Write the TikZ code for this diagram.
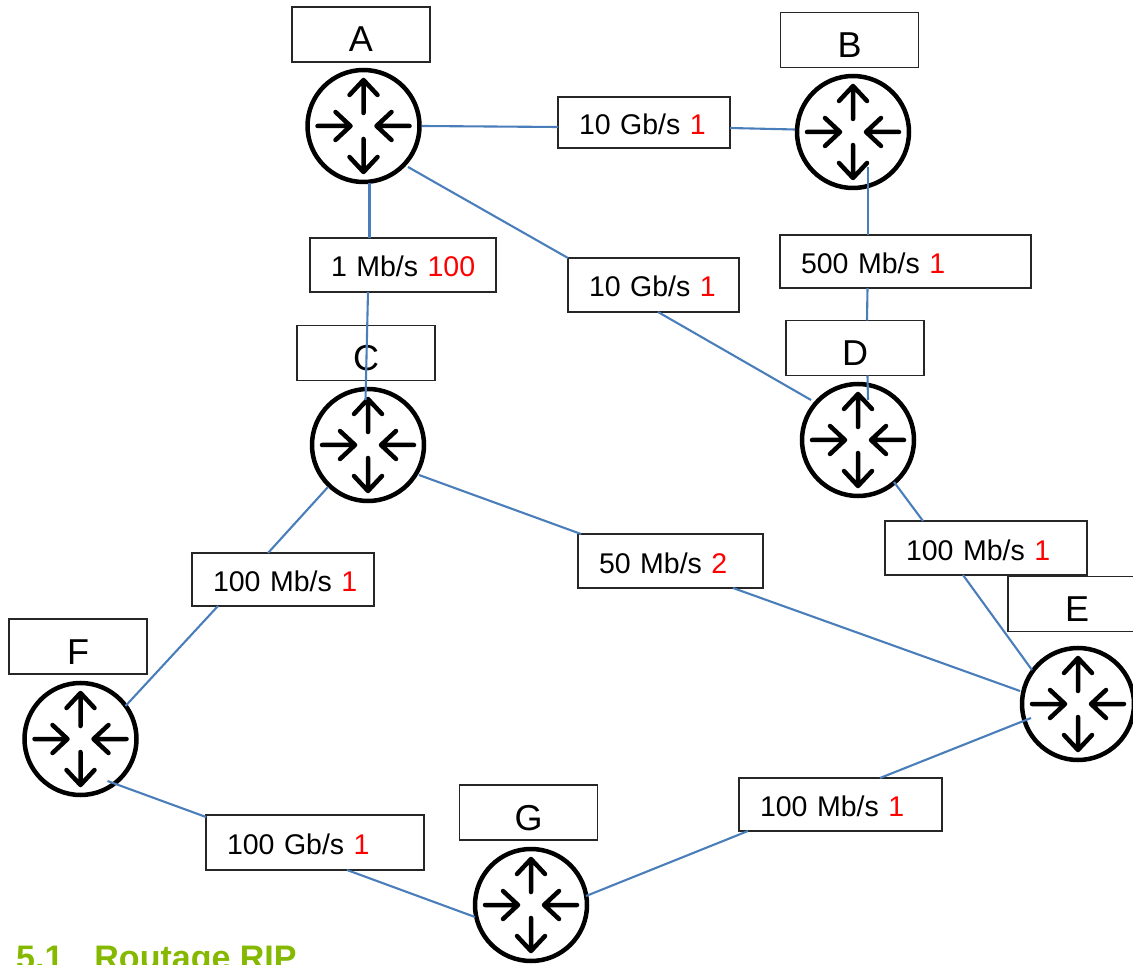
\documentclass[tikz,border=0pt]{standalone}
\usepackage{fontspec}
\setmainfont{Liberation Sans}
\definecolor{linkblue}{HTML}{4A7EBB}
\definecolor{headgreen}{HTML}{84B900}
\newcommand{\redval}[1]{\textcolor{red}{#1}}
\tikzset{
  router/.style={circle,draw=black,fill=white,line width=4.5pt,minimum size=112pt,inner sep=0pt,outer sep=0pt},
  namebox/.style={rectangle,draw=black!85,fill=white,line width=1.8pt,minimum width=138pt,minimum height=55pt,inner sep=0pt,outer sep=0pt,
    font=\fontsize{36}{40}\selectfont,text height=35pt,text depth=0pt},
  ratebox/.style={rectangle,draw=black!85,fill=white,line width=1.8pt,inner xsep=21pt,inner ysep=0pt,outer sep=0pt,align=left,
    font=\fontsize{28.5}{32}\selectfont,text height=24pt,text depth=0pt},
  link/.style={draw=linkblue,line width=2.1pt},
  routerarrows/.pic={
    \begin{scope}[line width=4.5pt,line cap=round,line join=round]
      \draw (0,-13) -- (0,-46) (-14,-31) -- (0,-46) -- (14,-31);
      \draw (0,13) -- (0,46) (-14,31) -- (0,46) -- (14,31);
      \draw (-46,0) -- (-13,0) (-28,-14) -- (-13,0) -- (-28,14);
      \draw (46,0) -- (13,0) (28,-14) -- (13,0) -- (28,14);
    \end{scope}
  }
}
\begin{document}
\begin{tikzpicture}[x=1pt,y=-1pt]
\useasboundingbox (0,0) rectangle (1133,965);
\clip (0,0) rectangle (1133,965);

% routers
\node[router] (A) at (363.5,126) {};
\node[router] (B) at (853,132) {};
\node[router] (C) at (368,445) {};
\node[router] (D) at (858,440) {};
\node[router] (E) at (1078,704) {};
\node[router] (F) at (80.5,739) {};
\node[router] (G) at (531,905) {};
\foreach \r in {A,B,C,D,E,F,G} { \pic at (\r) {routerarrows}; }

% router names
\node[namebox] (nA) at (361,34.5) {A};
\node[namebox] (nB) at (849.5,40) {B};
\node[namebox] (nC) at (366,353) {C};
\node[namebox] (nD) at (855,348) {D};
\node[namebox] (nE) at (1077,604) {E};
\node[namebox] (nF) at (78,646.5) {F};
\node[namebox] (nG) at (528.5,812.5) {G};

% rate boxes
\node[ratebox,text width=130pt,minimum height=51pt] (ab) at (644,122.5) {\mbox{10 Gb/s \redval{1}}};
\node[ratebox,text width=144pt,minimum height=54pt] (ac) at (403,265) {\mbox{1 Mb/s \redval{100}}};
\node[ratebox,text width=129pt,minimum height=54pt] (ad) at (653.5,285) {\mbox{10 Gb/s \redval{1}}};
\node[ratebox,text width=209pt,minimum height=53pt] (bd) at (905.5,261.5) {\mbox{500 Mb/s \redval{1}}};
\node[ratebox,text width=160pt,minimum height=54pt] (de) at (986,548) {\mbox{100 Mb/s \redval{1}}};
\node[ratebox,text width=143pt,minimum height=54pt] (ce) at (670.5,561) {\mbox{50 Mb/s \redval{2}}};
\node[ratebox,text width=140pt,minimum height=53pt] (cf) at (283,579.5) {\mbox{100 Mb/s \redval{1}}};
\node[ratebox,text width=176pt,minimum height=55pt] (fg) at (315,842.5) {\mbox{100 Gb/s \redval{1}}};
\node[ratebox,text width=161pt,minimum height=53pt] (ge) at (840.5,804.5) {\mbox{100 Mb/s \redval{1}}};

% heading
\node[anchor=base west,inner sep=0pt,text=headgreen,font=\fontsize{34}{38}\selectfont\bfseries] (head) at (16,969) {5.1\hspace{31pt}Routage RIP};

% connectors
\draw[link] ([shift={(58.5,0)}]A.center) -- ([yshift=-4.5pt]ab.west);
\draw[link] ([yshift=-5.5pt]ab.east) -- ([shift={(-58,-2.5)}]B.center);
\draw[link] ([shift={(6,57)}]A.center) -- ([xshift=-33.5pt]ac.north);
\draw[link] ([xshift=-35pt]ac.south) -- ([shift={(-2.5,-45)}]C.center);
\draw[link] ([shift={(44.5,41)}]A.center) -- (ad.north west);
\draw[link] ([xshift=4.5pt]ad.south) -- ([shift={(-47,-40)}]D.center);
\draw[link] ([shift={(15,35)}]B.center) -- ([xshift=-37.5pt]bd.north);
\draw[link] ([xshift=-38pt]bd.south) -- ([xshift=12pt]nD.north);
\draw[link] ([xshift=12.5pt]nD.south) -- ([shift={(10,-40)}]D.center);
\draw[link] ([shift={(36,42)}]D.center) -- ([xshift=-63pt]de.north);
\draw[link] ([xshift=-23pt]de.south) -- ([shift={(-46,-34)}]E.center);
\draw[link] ([shift={(51,30)}]C.center) -- ([xshift=-89.5pt]ce.north);
\draw[link] ([xshift=62.5pt]ce.south) -- ([shift={(-58,-13)}]E.center);
\draw[link] ([shift={(-40,42)}]C.center) -- ([xshift=-15pt]cf.north);
\draw[link] ([xshift=-65pt]cf.south) -- ([shift={(45,-33)}]F.center);
\draw[link] ([shift={(27,42)}]F.center) -- ([yshift=-2pt]fg.north west);
\draw[link] ([xshift=32pt]fg.south) -- ([shift={(-56,12)}]G.center);
\draw[link] ([shift={(55,-9)}]G.center) -- ([xshift=-92.5pt]ge.south);
\draw[link] ([xshift=39.5pt]ge.north) -- ([shift={(-47,14)}]E.center);
\end{tikzpicture}
\end{document}
